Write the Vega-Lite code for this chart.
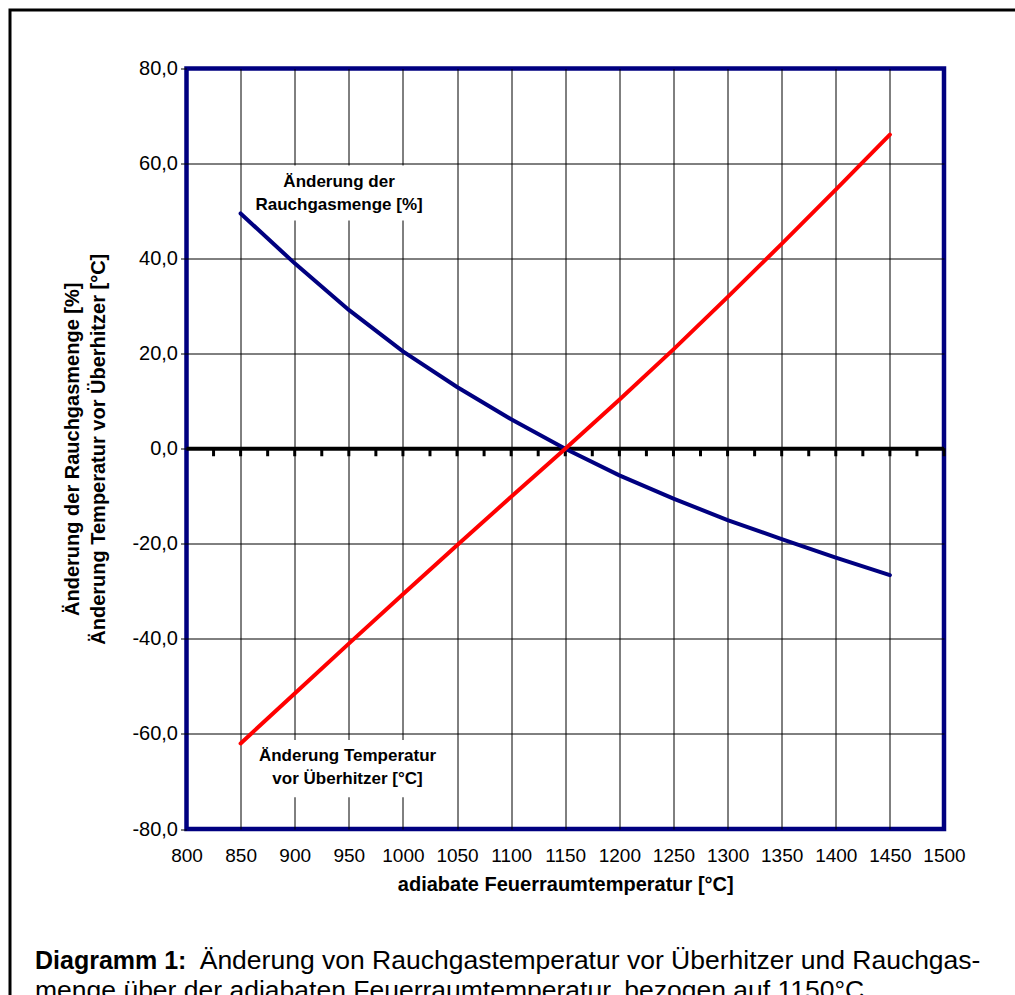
{
  "$schema": "https://vega.github.io/schema/vega-lite/v6.json",
  "width": 757.5,
  "height": 760.5,
  "autosize": {"type": "none"},
  "padding": {"left": 186.5, "top": 68.5, "right": 71, "bottom": 166},
  "background": "white",
  "config": {
    "font": "Liberation Sans",
    "view": {"stroke": "#000080", "strokeWidth": 4.5, "fill": "white"}
  },
  "datasets": {
    "series": [
      {"t": 850, "v": 49.5, "series": "Rauchgasmenge"},
      {"t": 900, "v": 39.0, "series": "Rauchgasmenge"},
      {"t": 950, "v": 29.2, "series": "Rauchgasmenge"},
      {"t": 1000, "v": 20.5, "series": "Rauchgasmenge"},
      {"t": 1050, "v": 13.0, "series": "Rauchgasmenge"},
      {"t": 1100, "v": 6.2, "series": "Rauchgasmenge"},
      {"t": 1150, "v": 0.0, "series": "Rauchgasmenge"},
      {"t": 1200, "v": -5.6, "series": "Rauchgasmenge"},
      {"t": 1250, "v": -10.5, "series": "Rauchgasmenge"},
      {"t": 1300, "v": -15.0, "series": "Rauchgasmenge"},
      {"t": 1350, "v": -19.0, "series": "Rauchgasmenge"},
      {"t": 1400, "v": -22.9, "series": "Rauchgasmenge"},
      {"t": 1450, "v": -26.6, "series": "Rauchgasmenge"},
      {"t": 850, "v": -62.0, "series": "Temperatur"},
      {"t": 900, "v": -51.5, "series": "Temperatur"},
      {"t": 950, "v": -41.0, "series": "Temperatur"},
      {"t": 1000, "v": -30.6, "series": "Temperatur"},
      {"t": 1050, "v": -20.3, "series": "Temperatur"},
      {"t": 1100, "v": -10.1, "series": "Temperatur"},
      {"t": 1150, "v": 0.0, "series": "Temperatur"},
      {"t": 1200, "v": 10.3, "series": "Temperatur"},
      {"t": 1250, "v": 20.9, "series": "Temperatur"},
      {"t": 1300, "v": 31.9, "series": "Temperatur"},
      {"t": 1350, "v": 43.1, "series": "Temperatur"},
      {"t": 1400, "v": 54.5, "series": "Temperatur"},
      {"t": 1450, "v": 66.1, "series": "Temperatur"}
    ],
    "zero": [{"v": 0}],
    "ticks": [
      {"t": 825}, {"t": 850}, {"t": 875}, {"t": 900}, {"t": 925}, {"t": 950}, {"t": 975},
      {"t": 1000}, {"t": 1025}, {"t": 1050}, {"t": 1075}, {"t": 1100}, {"t": 1125}, {"t": 1150},
      {"t": 1175}, {"t": 1200}, {"t": 1225}, {"t": 1250}, {"t": 1275}, {"t": 1300}, {"t": 1325},
      {"t": 1350}, {"t": 1375}, {"t": 1400}, {"t": 1425}, {"t": 1450}, {"t": 1475}, {"t": 1500}
    ],
    "boxes": [
      {"x1": 858.7, "x2": 1034, "y1": 59.6, "y2": 48.0},
      {"x1": 858.7, "x2": 1040, "y1": -61.3, "y2": -73.3}
    ],
    "labels": [
      {"x": 941, "y": 55.0, "text": "Änderung der\nRauchgasmenge [%]"},
      {"x": 948.8, "y": -65.6, "text": "Änderung Temperatur\nvor Überhitzer [°C]"}
    ],
    "captionBold": [
      {"x": 660.0, "y": -109.46, "text": "Diagramm 1:"}
    ],
    "captionRegular": [
      {"x": 812.2, "y": -109.46, "text": "Änderung von Rauchgastemperatur vor Überhitzer und Rauchgas-"},
      {"x": 660.0, "y": -115.77, "text": "menge über der adiabaten Feuerraumtemperatur, bezogen auf 1150°C"}
    ],
    "frame": [
      {"x1": 636.9, "x2": 1570, "y1": 92.31, "y2": -116.0}
    ]
  },
  "layer": [
    {
      "data": {"name": "series"},
      "mark": {"type": "line", "strokeWidth": 0, "opacity": 0},
      "encoding": {
        "x": {
          "field": "t", "type": "quantitative",
          "scale": {"domain": [800, 1500], "nice": false, "zero": false},
          "axis": {
            "values": [800, 850, 900, 950, 1000, 1050, 1100, 1150, 1200, 1250, 1300, 1350, 1400, 1450, 1500],
            "format": "d",
            "domain": false,
            "ticks": false,
            "labelFontSize": 19,
            "labelColor": "black",
            "labelPadding": 17,
            "labelFlush": false,
            "labelOverlap": false,
            "grid": true,
            "gridColor": "black",
            "gridWidth": 1,
            "gridOpacity": {"condition": {"test": "datum.value <= 800 || datum.value >= 1500", "value": 0}, "value": 1},
            "title": "adiabate Feuerraumtemperatur [°C]",
            "titleFontSize": 20,
            "titleFontWeight": "bold",
            "titleColor": "black",
            "titlePadding": 9
          }
        },
        "y": {
          "field": "v", "type": "quantitative",
          "scale": {"domain": [-80, 80], "nice": false, "zero": false},
          "axis": {
            "values": [-80, -60, -40, -20, 0, 20, 40, 60, 80],
            "labelExpr": "(datum.value < 0 ? '-' : '') + replace(format(abs(datum.value), '.1f'), '.', ',')",
            "domain": false,
            "ticks": true,
            "tickColor": "black",
            "tickSize": 6,
            "tickWidth": 1,
            "labelFontSize": 20,
            "labelColor": "black",
            "labelPadding": 3,
            "labelFlush": false,
            "labelOverlap": false,
            "grid": true,
            "gridColor": "black",
            "gridWidth": 1,
            "gridOpacity": {"condition": {"test": "datum.value <= -80 || datum.value >= 80", "value": 0}, "value": 1},
            "title": ["Änderung der Rauchgasmenge [%]", "Änderung Temperatur vor Überhitzer [°C]"],
            "titleFontSize": 20,
            "titleFontWeight": "bold",
            "titleColor": "black",
            "titleLineHeight": 26,
            "titlePadding": 23
          }
        },
        "detail": {"field": "series", "type": "nominal"}
      }
    },
    {
      "data": {"name": "boxes"},
      "mark": {"type": "rect", "fill": "white", "strokeWidth": 0},
      "encoding": {
        "x": {"field": "x1", "type": "quantitative", "scale": {"domain": [800, 1500], "nice": false, "zero": false}},
        "x2": {"field": "x2"},
        "y": {"field": "y1", "type": "quantitative", "scale": {"domain": [-80, 80], "nice": false, "zero": false}},
        "y2": {"field": "y2"}
      }
    },
    {
      "data": {"name": "zero"},
      "mark": {"type": "rule", "color": "black", "strokeWidth": 4},
      "encoding": {
        "y": {"field": "v", "type": "quantitative", "scale": {"domain": [-80, 80], "nice": false, "zero": false}}
      }
    },
    {
      "data": {"name": "ticks"},
      "mark": {"type": "tick", "orient": "vertical", "color": "black", "size": 8, "thickness": 3, "yOffset": 3.5, "opacity": 1},
      "encoding": {
        "x": {"field": "t", "type": "quantitative", "scale": {"domain": [800, 1500], "nice": false, "zero": false}},
        "y": {"datum": 0, "type": "quantitative", "scale": {"domain": [-80, 80], "nice": false, "zero": false}}
      }
    },
    {
      "data": {"name": "series"},
      "mark": {"type": "line", "strokeWidth": 4, "strokeCap": "round"},
      "encoding": {
        "x": {"field": "t", "type": "quantitative", "scale": {"domain": [800, 1500], "nice": false, "zero": false}},
        "y": {"field": "v", "type": "quantitative", "scale": {"domain": [-80, 80], "nice": false, "zero": false}},
        "color": {
          "field": "series", "type": "nominal",
          "scale": {"domain": ["Rauchgasmenge", "Temperatur"], "range": ["#000080", "#FF0000"]},
          "legend": null
        }
      }
    },
    {
      "data": {"name": "labels"},
      "mark": {"type": "text", "fontSize": 17, "fontWeight": "bold", "color": "black", "align": "center", "baseline": "alphabetic", "lineBreak": "\n", "lineHeight": 23},
      "encoding": {
        "x": {"field": "x", "type": "quantitative", "scale": {"domain": [800, 1500], "nice": false, "zero": false}},
        "y": {"field": "y", "type": "quantitative", "scale": {"domain": [-80, 80], "nice": false, "zero": false}},
        "text": {"field": "text", "type": "nominal"}
      }
    },
    {
      "data": {"name": "captionBold"},
      "mark": {"type": "text", "fontSize": 25, "fontWeight": "bold", "color": "black", "align": "left", "baseline": "alphabetic"},
      "encoding": {
        "x": {"field": "x", "type": "quantitative", "scale": {"domain": [800, 1500], "nice": false, "zero": false}},
        "y": {"field": "y", "type": "quantitative", "scale": {"domain": [-80, 80], "nice": false, "zero": false}},
        "text": {"field": "text", "type": "nominal"}
      }
    },
    {
      "data": {"name": "captionRegular"},
      "mark": {"type": "text", "fontSize": 26.5, "fontWeight": "normal", "color": "black", "align": "left", "baseline": "alphabetic"},
      "encoding": {
        "x": {"field": "x", "type": "quantitative", "scale": {"domain": [800, 1500], "nice": false, "zero": false}},
        "y": {"field": "y", "type": "quantitative", "scale": {"domain": [-80, 80], "nice": false, "zero": false}},
        "text": {"field": "text", "type": "nominal"}
      }
    },
    {
      "data": {"name": "frame"},
      "mark": {"type": "rect", "fill": null, "fillOpacity": 0, "stroke": "black", "strokeWidth": 3},
      "encoding": {
        "x": {"field": "x1", "type": "quantitative", "scale": {"domain": [800, 1500], "nice": false, "zero": false}},
        "x2": {"field": "x2"},
        "y": {"field": "y1", "type": "quantitative", "scale": {"domain": [-80, 80], "nice": false, "zero": false}},
        "y2": {"field": "y2"}
      }
    }
  ]
}
